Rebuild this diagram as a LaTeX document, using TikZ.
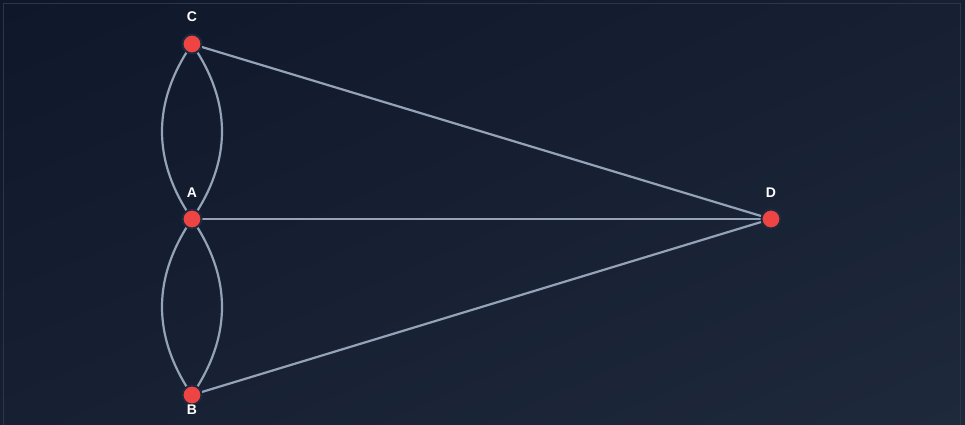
\documentclass[tikz,border=0pt]{standalone}
\usepackage{fontspec}
\setmainfont{Liberation Sans}
\usetikzlibrary{shadings}
\definecolor{bgTL}{HTML}{0F172A}
\definecolor{bgBR}{HTML}{1E293B}
\definecolor{bgMID}{HTML}{172033}
\definecolor{frame}{HTML}{2B3749}
\definecolor{edgecol}{HTML}{94A3B8}
\definecolor{nodered}{HTML}{EF4444}
\definecolor{ring}{HTML}{1E293B}
\pgfdeclarelayer{bglayer}
\pgfdeclarelayer{edgelayer}
\pgfsetlayers{bglayer,edgelayer,main}
\tikzset{
  vert/.style={circle, fill=nodered, draw=ring, line width=2pt, minimum size=19pt, inner sep=0pt},
  vlabel/.style={text=white, font=\bfseries\fontsize{14}{15}\selectfont, inner sep=0pt},
  bridge/.style={draw=edgecol, line width=2.2pt}
}
\begin{document}
\begin{tikzpicture}[x=1pt,y=-1pt]
\useasboundingbox (0,0) rectangle (965,425);
\begin{pgfonlayer}{bglayer}
\shade[upper left=bgTL, upper right=bgMID, lower left=bgMID, lower right=bgBR] (0,0) rectangle (965,425);
\begin{scope}
\clip (0,0) rectangle (965,425);
\draw[frame, line width=1.2pt] (3.5,440) -- (3.5,3.5) -- (960.5,3.5) -- (960.5,440);
\end{scope}
\end{pgfonlayer}

\node[vert] (C) at (192,44) {};
\node[vert] (A) at (192,219) {};
\node[vert] (B) at (192,395) {};
\node[vert] (D) at (771,219) {};

\node[vlabel] (lC) at (192,17) {C};
\node[vlabel] (lA) at (192,193) {A};
\node[vlabel] (lB) at (192,410) {B};
\node[vlabel] (lD) at (771,193) {D};

\begin{pgfonlayer}{edgelayer}
\draw[bridge] (C.center) .. controls (152,102.3) and (152,160.7) .. (A.center);
\draw[bridge] (C.center) .. controls (232,102.3) and (232,160.7) .. (A.center);
\draw[bridge] (A.center) .. controls (152,277.7) and (152,336.3) .. (B.center);
\draw[bridge] (A.center) .. controls (232,277.7) and (232,336.3) .. (B.center);
\draw[bridge] (C.center) -- (D.center);
\draw[bridge] (A.center) -- (D.center);
\draw[bridge] (B.center) -- (D.center);
\end{pgfonlayer}
\end{tikzpicture}
\end{document}
